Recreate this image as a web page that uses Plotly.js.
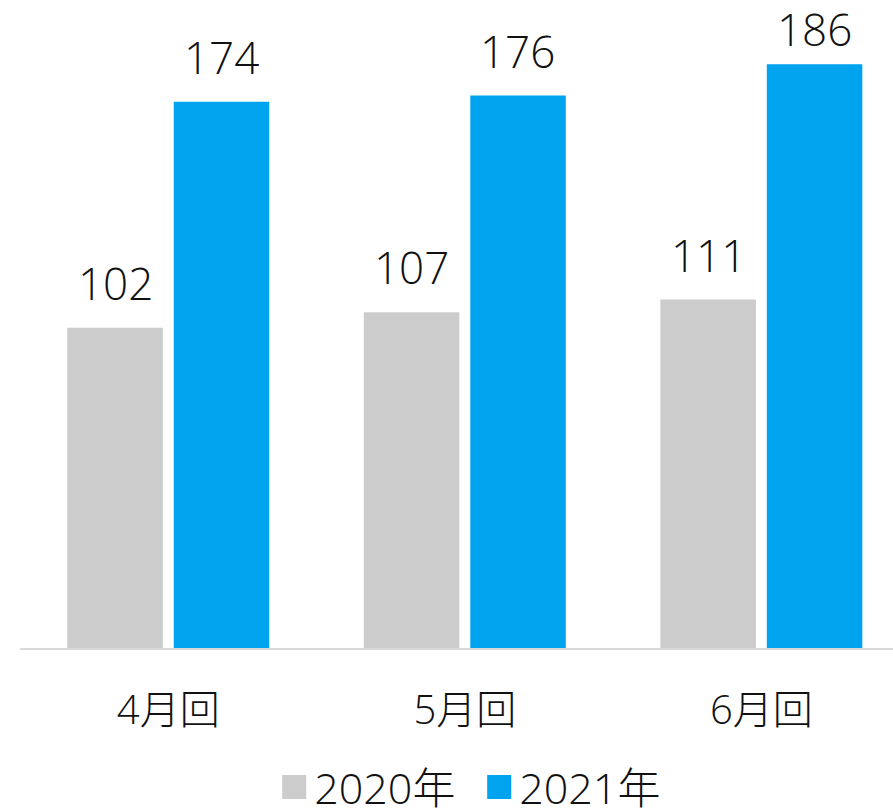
<!DOCTYPE html>
<html><head><meta charset="utf-8">
<script src="https://cdn.plot.ly/plotly-3.0.1.min.js"></script>
<style>body{margin:0;padding:0;background:#fff}</style>
</head><body>
<div id="chart" style="width:893px;height:810px"></div>
<script>
const categories = ['4月回', '5月回', '6月回'];
const seriesNames = ['2020年', '2021年'];
const values2020 = [102, 107, 111];
const values2021 = [174, 176, 186];
const colors = ['#cccccc', '#00a3ee'];
const FONT = '"Open Sans", "Noto Sans CJK JP", sans-serif';
const TXT = '#111111';

const H = 810, MT = 10, MB = 162;
const Y_MAX = 203.25;
const plotH = H - MT - MB;
const LABEL_GAP = 13;      // yshift above bar
const LABEL_H = 46;        // approx label box height
const MIN_TOP = 15;        // labels may not rise above this pixel

const traces = [
  {type: 'bar', name: seriesNames[0], x: categories, y: values2020, marker: {color: colors[0]}, hoverinfo: 'none'},
  {type: 'bar', name: seriesNames[1], x: categories, y: values2021, marker: {color: colors[1]}, hoverinfo: 'none'}
];

const annotations = [];
[values2020, values2021].forEach((vals, si) => {
  vals.forEach((v, i) => {
    const barTop = MT + plotH * (1 - v / Y_MAX);
    const maxShift = barTop - MIN_TOP - LABEL_H;
    annotations.push({
      x: categories[i], y: v, xref: 'x', yref: 'y', text: String(v),
      showarrow: false, yanchor: 'bottom', xanchor: 'center',
      xshift: si === 0 ? -53 : 53, yshift: Math.min(LABEL_GAP, maxShift),
      font: {family: FONT, size: 44, weight: 300, color: TXT}
    });
  });
});

const layout = {
  width: 893, height: H,
  margin: {l: 20, r: 0, t: MT, b: MB, autoexpand: false},
  paper_bgcolor: '#ffffff', plot_bgcolor: '#ffffff',
  barmode: 'group', bargap: 0.282, bargroupgap: 0.103,
  font: {family: FONT, size: 40, weight: 300, color: TXT},
  xaxis: {
    type: 'category', range: [-0.5, 2.444], showgrid: false, zeroline: false,
    showline: true, linecolor: '#d9d9d9', linewidth: 2, ticks: '',
    tickfont: {family: FONT, size: 40, weight: 300, color: TXT}, ticklabelstandoff: 26
  },
  yaxis: {range: [0, Y_MAX], visible: false, showgrid: false, zeroline: false},
  showlegend: true,
  legend: {
    orientation: 'h', x: 0.526, xanchor: 'center', y: -0.164, yanchor: 'top',
    font: {family: FONT, size: 43, weight: 300, color: TXT}, itemwidth: 30,
    entrywidth: 160, entrywidthmode: 'pixels',
    bgcolor: 'rgba(0,0,0,0)'
  },
  annotations: annotations
};

Plotly.newPlot('chart', traces, layout, {displayModeBar: false, staticPlot: true}).then(() => {
  document.querySelectorAll('.legendpoints path').forEach(p => {
    const t = p.getAttribute('transform') || '';
    p.setAttribute('transform', t + ' scale(2)');
  });
});
</script>
</body></html>
